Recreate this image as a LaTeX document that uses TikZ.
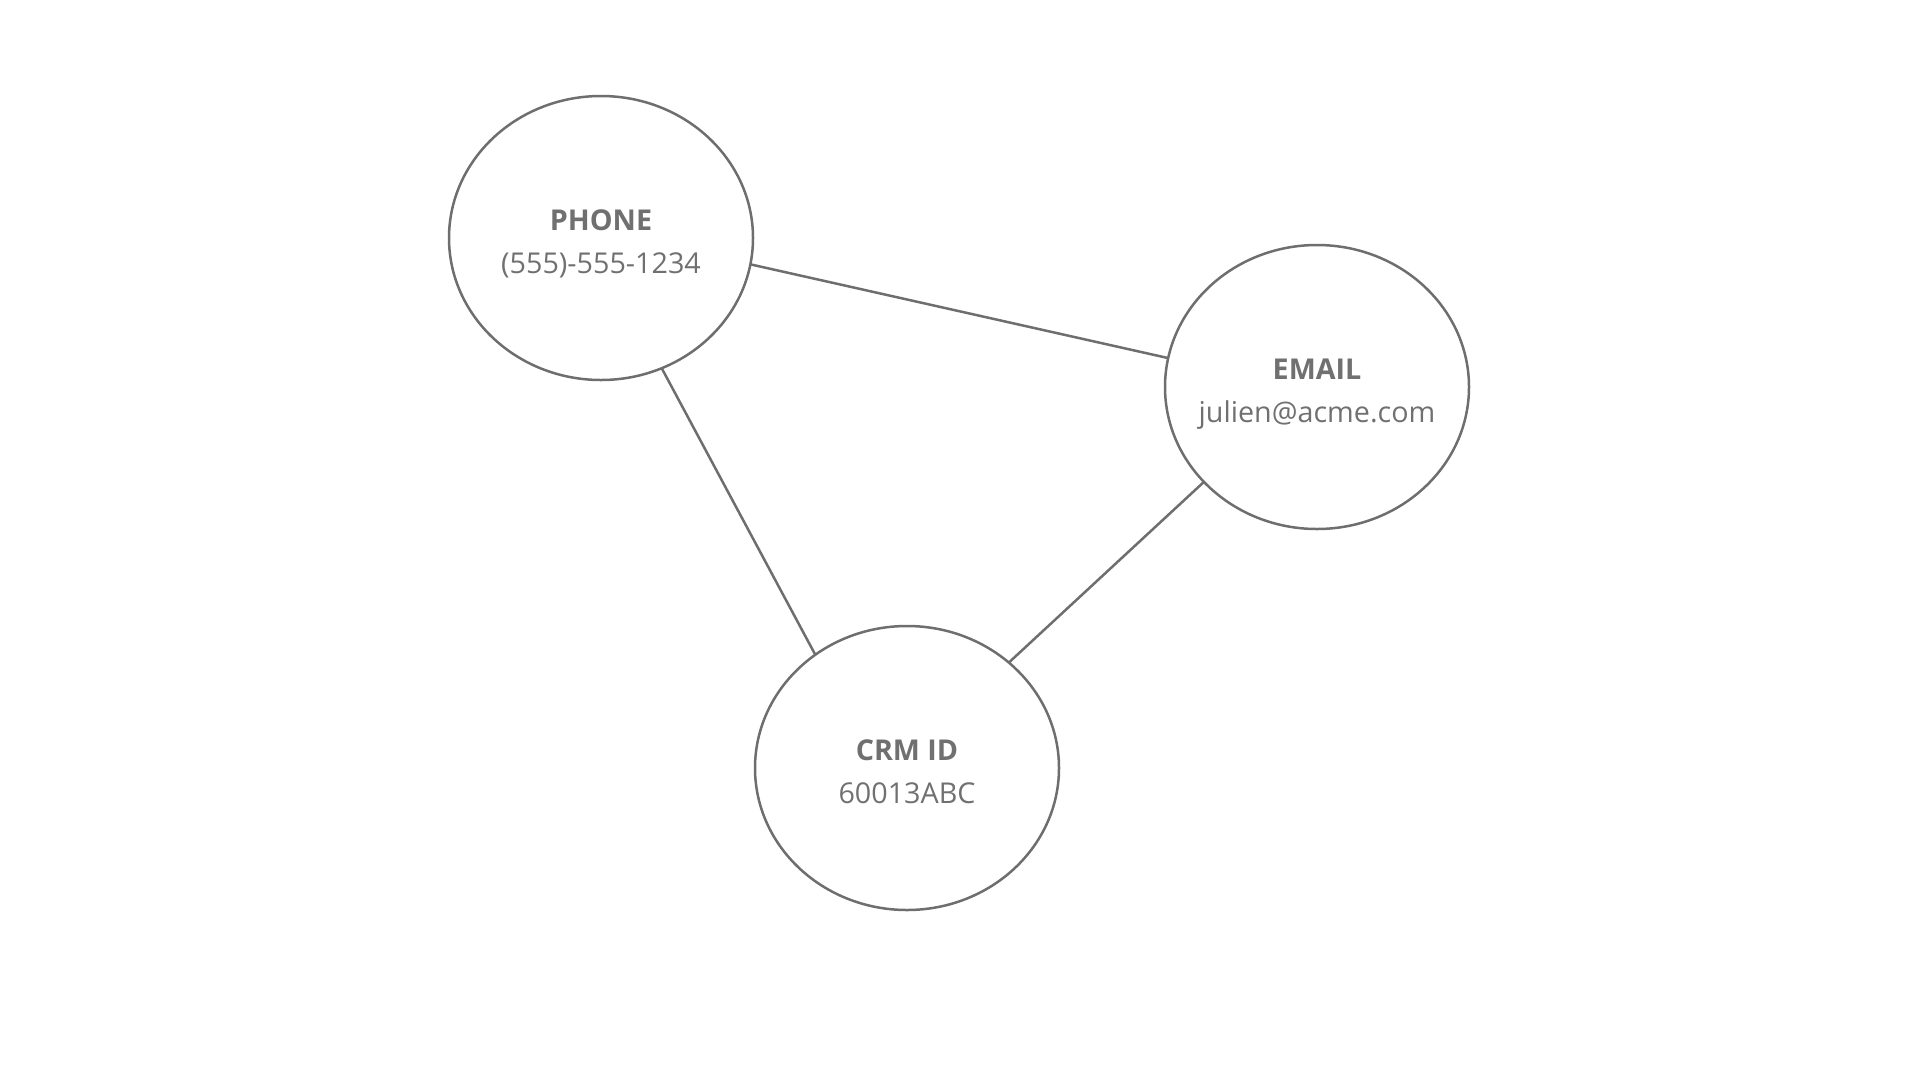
\documentclass[tikz,border=0pt]{standalone}
\usepackage{fontspec}
\setmainfont{Open Sans}
\usetikzlibrary{shapes.geometric}
\definecolor{linegray}{HTML}{6E6E6E}
\definecolor{textgray}{HTML}{707070}
\tikzset{
  idnode/.style={ellipse, draw=linegray, line width=2.5pt, inner sep=0pt, outer sep=0pt,
    minimum width=304pt, minimum height=284pt},
  idtitle/.style={anchor=base, inner sep=0pt, text=textgray,
    font=\fontsize{28.7}{34}\selectfont\bfseries},
  idvalue/.style={anchor=base, inner sep=0pt, text=textgray,
    font=\fontsize{28.7}{34}\selectfont},
  link/.style={draw=linegray, line width=2.5pt}
}
\begin{document}
\begin{tikzpicture}[x=1pt,y=1pt]
\useasboundingbox (0,0) rectangle (1920,-1080);
\node[idnode] (phone) at (601,-238) {};
\node[idnode] (email) at (1317,-387) {};
\node[idnode] (crm) at (907,-768) {};
\node[idtitle] (phonet) at ([yshift=8pt]phone.center) {PHONE};
\node[idvalue] (phonev) at ([yshift=-35pt]phone.center) {(555)-555-1234};
\node[idtitle] (emailt) at ([yshift=8pt]email.center) {EMAIL};
\node[idvalue] (emailv) at ([yshift=-35pt]email.center) {julien@acme.com};
\node[idtitle] (crmt) at ([yshift=8pt]crm.center) {CRM ID};
\node[idvalue] (crmv) at ([yshift=-35pt]crm.center) {60013ABC};
\draw[link] (phone.-10.9) -- (email.169.4);
\draw[link] (phone.-65.6) -- (crm.129.0);
\draw[link] (email.-140.5) -- (crm.46.4);
\end{tikzpicture}
\end{document}
